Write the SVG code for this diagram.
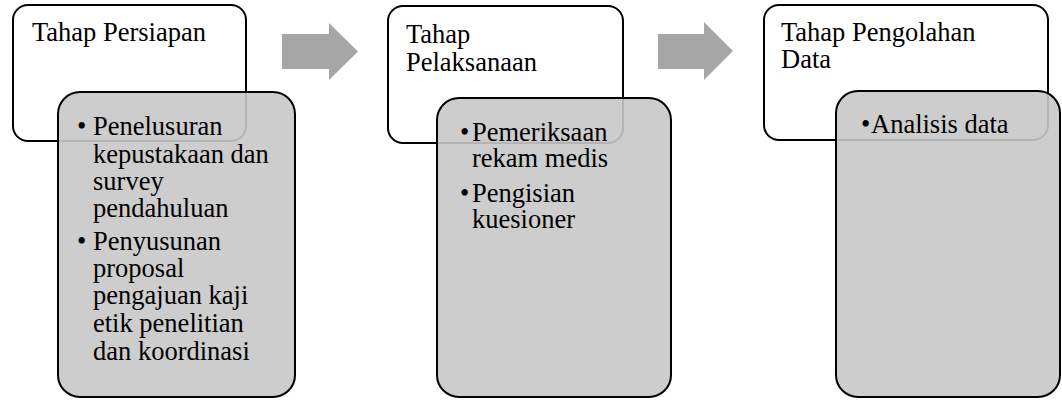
<svg xmlns="http://www.w3.org/2000/svg" width="1062" height="400" viewBox="0 0 1062 400">
<style>
.hdr{fill:#ffffff;stroke:#000000;stroke-width:2}
.sub{fill:#c8c8c8;fill-opacity:0.9;stroke:#000000;stroke-width:2}
.arrow{fill:#a6a6a6}
.t{font-family:'Liberation Serif','DejaVu Serif','Times New Roman',serif;font-size:26.5px;fill:#000000}
</style>
<rect width="1062" height="400" fill="#ffffff"/>
<g id="connectors">
<polygon class="arrow" points="282,34 329,34 329,23 358,51.5 329,80 329,69 282,69"/>
<polygon class="arrow" points="658,34 704,34 704,22 733,51 704,80 704,69 658,69"/>
</g>
<g id="node-persiapan">
<rect class="hdr" x="13" y="5" width="233" height="136" rx="15"/>
<text class="t" x="32" y="41">Tahap Persiapan</text>
<rect class="sub" x="58" y="92" width="237" height="305" rx="22"/>
<text class="t"><tspan x="77" y="135">•</tspan><tspan x="93" y="135">Penelusuran</tspan><tspan x="93" y="163">kepustakaan dan</tspan><tspan x="93" y="190">survey</tspan><tspan x="93" y="217">pendahuluan</tspan><tspan x="77" y="250">•</tspan><tspan x="93" y="250">Penyusunan</tspan><tspan x="93" y="277">proposal</tspan><tspan x="93" y="304">pengajuan kaji</tspan><tspan x="93" y="332">etik penelitian</tspan><tspan x="93" y="360">dan koordinasi</tspan></text>
</g>
<g id="node-pelaksanaan">
<rect class="hdr" x="388" y="6" width="235" height="137" rx="15"/>
<text class="t"><tspan x="406" y="43">Tahap</tspan><tspan x="406" y="71">Pelaksanaan</tspan></text>
<rect class="sub" x="437" y="98" width="234" height="299" rx="22"/>
<text class="t"><tspan x="460" y="141">•</tspan><tspan x="472" y="141">Pemeriksaan</tspan><tspan x="472" y="167">rekam medis</tspan><tspan x="460" y="202">•</tspan><tspan x="472" y="202">Pengisian</tspan><tspan x="472" y="228">kuesioner</tspan></text>
</g>
<g id="node-pengolahan">
<rect class="hdr" x="764" y="5" width="284" height="135" rx="15"/>
<text class="t"><tspan x="781" y="41">Tahap Pengolahan</tspan><tspan x="781" y="68">Data</tspan></text>
<rect class="sub" x="836" y="91" width="224" height="306" rx="22"/>
<text class="t"><tspan x="861" y="133">•</tspan><tspan x="871" y="133">Analisis data</tspan></text>
</g>
</svg>
